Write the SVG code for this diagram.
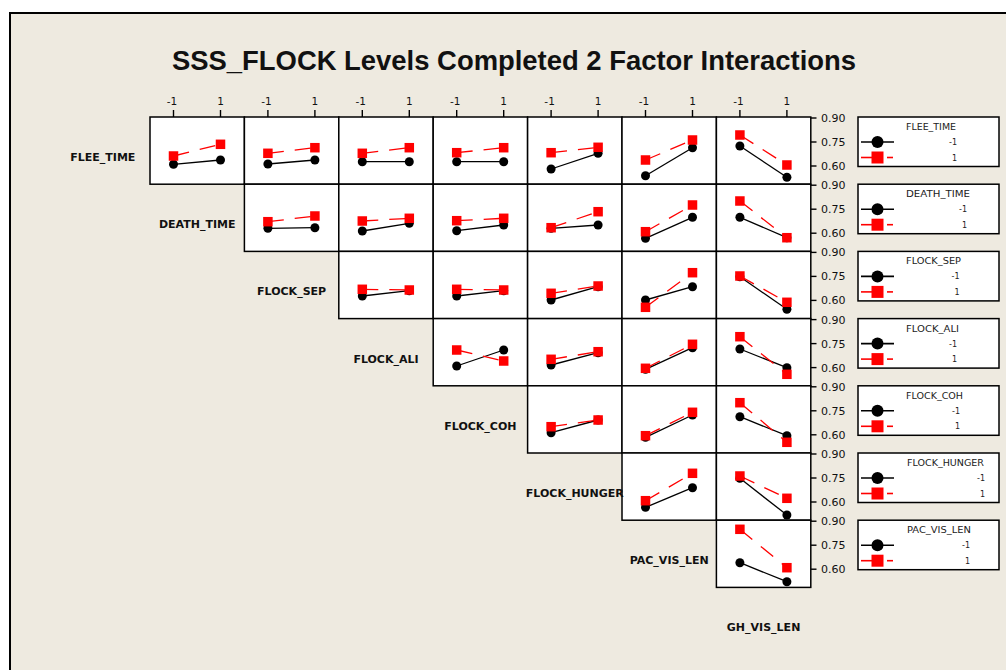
<svg xmlns="http://www.w3.org/2000/svg" xmlns:xlink="http://www.w3.org/1999/xlink" width="1006" height="670" viewBox="0 0 1006 670">
<style>
.cell{fill:#fff;stroke:#000;stroke-width:1.5}
.bl{stroke:#000;stroke-width:1.3;fill:none}
.rl{stroke:#f00;stroke-width:1.3;fill:none;stroke-dasharray:16 11}
.tk{stroke:#000;stroke-width:1.4}
.ax{font-family:"DejaVu Sans",Verdana,sans-serif;font-size:10.5px;fill:#111;text-anchor:middle}
.ay{font-family:"DejaVu Sans",Verdana,sans-serif;font-size:11px;fill:#111}
.rlab{font-family:"DejaVu Sans",Verdana,sans-serif;font-size:11px;font-weight:bold;fill:#111;text-anchor:middle}
.lg{fill:#fff;stroke:#000;stroke-width:1.5}
.lt{font-family:"DejaVu Sans",Verdana,sans-serif;font-size:8.5px;fill:#222}
.lv{font-family:"DejaVu Sans",Verdana,sans-serif;font-size:8px;fill:#222;text-anchor:end}
.lbl{stroke:#000;stroke-width:1.6}
.lrl{stroke:#f00;stroke-width:1.6}
</style>
<defs>
<circle id="c" r="4.5" fill="#000"/>
<rect id="s" x="-4.75" y="-4.75" width="9.5" height="9.5" fill="#f00"/>
</defs>
<rect x="0" y="0" width="1006" height="670" fill="#fff"/>
<rect x="10" y="13" width="1010" height="680" fill="#EEEAE0" stroke="#000" stroke-width="2"/>
<text x="514" y="70" font-family="'Liberation Sans',Arial,sans-serif" font-size="27.5" font-weight="bold" fill="#111" text-anchor="middle" textLength="684" lengthAdjust="spacingAndGlyphs">SSS_FLOCK Levels Completed 2 Factor Interactions</text>

<g id="top-axis">
<g class="tk">
<line x1="173.5" y1="110" x2="173.5" y2="117"/><line x1="220.5" y1="110" x2="220.5" y2="117"/>
<line x1="267.9" y1="110" x2="267.9" y2="117"/><line x1="314.9" y1="110" x2="314.9" y2="117"/>
<line x1="362.3" y1="110" x2="362.3" y2="117"/><line x1="409.3" y1="110" x2="409.3" y2="117"/>
<line x1="456.7" y1="110" x2="456.7" y2="117"/><line x1="503.7" y1="110" x2="503.7" y2="117"/>
<line x1="551.1" y1="110" x2="551.1" y2="117"/><line x1="598.1" y1="110" x2="598.1" y2="117"/>
<line x1="645.5" y1="110" x2="645.5" y2="117"/><line x1="692.5" y1="110" x2="692.5" y2="117"/>
<line x1="739.9" y1="110" x2="739.9" y2="117"/><line x1="786.9" y1="110" x2="786.9" y2="117"/>
</g>
<g class="ax">
<text x="172" y="105">-1</text><text x="220.5" y="105">1</text>
<text x="266.4" y="105">-1</text><text x="314.9" y="105">1</text>
<text x="360.8" y="105">-1</text><text x="409.3" y="105">1</text>
<text x="455.2" y="105">-1</text><text x="503.7" y="105">1</text>
<text x="549.6" y="105">-1</text><text x="598.1" y="105">1</text>
<text x="644" y="105">-1</text><text x="692.5" y="105">1</text>
<text x="738.4" y="105">-1</text><text x="786.9" y="105">1</text>
</g>
</g>

<g id="cells">
<rect class="cell" x="150" y="117" width="94.4" height="67.2"/>
<rect class="cell" x="244.4" y="117" width="94.4" height="67.2"/>
<rect class="cell" x="338.8" y="117" width="94.4" height="67.2"/>
<rect class="cell" x="433.2" y="117" width="94.4" height="67.2"/>
<rect class="cell" x="527.6" y="117" width="94.4" height="67.2"/>
<rect class="cell" x="622" y="117" width="94.4" height="67.2"/>
<rect class="cell" x="716.4" y="117" width="94.4" height="67.2"/>
<rect class="cell" x="244.4" y="184.2" width="94.4" height="67.2"/>
<rect class="cell" x="338.8" y="184.2" width="94.4" height="67.2"/>
<rect class="cell" x="433.2" y="184.2" width="94.4" height="67.2"/>
<rect class="cell" x="527.6" y="184.2" width="94.4" height="67.2"/>
<rect class="cell" x="622" y="184.2" width="94.4" height="67.2"/>
<rect class="cell" x="716.4" y="184.2" width="94.4" height="67.2"/>
<rect class="cell" x="338.8" y="251.4" width="94.4" height="67.2"/>
<rect class="cell" x="433.2" y="251.4" width="94.4" height="67.2"/>
<rect class="cell" x="527.6" y="251.4" width="94.4" height="67.2"/>
<rect class="cell" x="622" y="251.4" width="94.4" height="67.2"/>
<rect class="cell" x="716.4" y="251.4" width="94.4" height="67.2"/>
<rect class="cell" x="433.2" y="318.6" width="94.4" height="67.2"/>
<rect class="cell" x="527.6" y="318.6" width="94.4" height="67.2"/>
<rect class="cell" x="622" y="318.6" width="94.4" height="67.2"/>
<rect class="cell" x="716.4" y="318.6" width="94.4" height="67.2"/>
<rect class="cell" x="527.6" y="385.8" width="94.4" height="67.2"/>
<rect class="cell" x="622" y="385.8" width="94.4" height="67.2"/>
<rect class="cell" x="716.4" y="385.8" width="94.4" height="67.2"/>
<rect class="cell" x="622" y="453" width="94.4" height="67.2"/>
<rect class="cell" x="716.4" y="453" width="94.4" height="67.2"/>
<rect class="cell" x="716.4" y="520.2" width="94.4" height="67.2"/>
</g>

<g id="right-axis">
<g class="tk">
<line x1="810.8" y1="118" x2="816.5" y2="118"/><line x1="810.8" y1="142" x2="816.5" y2="142"/><line x1="810.8" y1="166" x2="816.5" y2="166"/>
<line x1="810.8" y1="185.2" x2="816.5" y2="185.2"/><line x1="810.8" y1="209.2" x2="816.5" y2="209.2"/><line x1="810.8" y1="233.2" x2="816.5" y2="233.2"/>
<line x1="810.8" y1="252.4" x2="816.5" y2="252.4"/><line x1="810.8" y1="276.4" x2="816.5" y2="276.4"/><line x1="810.8" y1="300.4" x2="816.5" y2="300.4"/>
<line x1="810.8" y1="319.6" x2="816.5" y2="319.6"/><line x1="810.8" y1="343.6" x2="816.5" y2="343.6"/><line x1="810.8" y1="367.6" x2="816.5" y2="367.6"/>
<line x1="810.8" y1="386.8" x2="816.5" y2="386.8"/><line x1="810.8" y1="410.8" x2="816.5" y2="410.8"/><line x1="810.8" y1="434.8" x2="816.5" y2="434.8"/>
<line x1="810.8" y1="454" x2="816.5" y2="454"/><line x1="810.8" y1="478" x2="816.5" y2="478"/><line x1="810.8" y1="502" x2="816.5" y2="502"/>
<line x1="810.8" y1="521.2" x2="816.5" y2="521.2"/><line x1="810.8" y1="545.2" x2="816.5" y2="545.2"/><line x1="810.8" y1="569.2" x2="816.5" y2="569.2"/>
</g>
<g class="ay">
<text x="821" y="122">0.90</text><text x="821" y="146">0.75</text><text x="821" y="170">0.60</text>
<text x="821" y="189.2">0.90</text><text x="821" y="213.2">0.75</text><text x="821" y="237.2">0.60</text>
<text x="821" y="256.4">0.90</text><text x="821" y="280.4">0.75</text><text x="821" y="304.4">0.60</text>
<text x="821" y="323.6">0.90</text><text x="821" y="347.6">0.75</text><text x="821" y="371.6">0.60</text>
<text x="821" y="390.8">0.90</text><text x="821" y="414.8">0.75</text><text x="821" y="438.8">0.60</text>
<text x="821" y="458">0.90</text><text x="821" y="482">0.75</text><text x="821" y="506">0.60</text>
<text x="821" y="525.2">0.90</text><text x="821" y="549.2">0.75</text><text x="821" y="573.2">0.60</text>
</g>
</g>

<g id="row-labels" class="rlab">
<text x="102.8" y="161">FLEE_TIME</text>
<text x="197.2" y="228.2">DEATH_TIME</text>
<text x="291.6" y="295.4">FLOCK_SEP</text>
<text x="386" y="362.6">FLOCK_ALI</text>
<text x="480.4" y="429.8">FLOCK_COH</text>
<text x="574.8" y="497">FLOCK_HUNGER</text>
<text x="669.2" y="564.2">PAC_VIS_LEN</text>
<text x="763.6" y="631.4">GH_VIS_LEN</text>
</g>

<g id="connectors">
<!-- row 1 -->
<line class="bl" x1="173.5" y1="164.3" x2="220.5" y2="160"/><line class="rl" x1="173.5" y1="156" x2="220.5" y2="144.3"/>
<line class="bl" x1="267.9" y1="164" x2="314.9" y2="160"/><line class="rl" x1="267.9" y1="153.3" x2="314.9" y2="147.7"/>
<line class="bl" x1="362.3" y1="161.7" x2="409.3" y2="161.7"/><line class="rl" x1="362.3" y1="153.3" x2="409.3" y2="147.7"/>
<line class="bl" x1="456.7" y1="161.7" x2="503.7" y2="161.7"/><line class="rl" x1="456.7" y1="152.7" x2="503.7" y2="147.7"/>
<line class="bl" x1="551.1" y1="169" x2="598.1" y2="153.3"/><line class="rl" x1="551.1" y1="152.7" x2="598.1" y2="147.3"/>
<line class="bl" x1="645.5" y1="175.7" x2="692.5" y2="147.7"/><line class="rl" x1="645.5" y1="160" x2="692.5" y2="140"/>
<line class="bl" x1="739.9" y1="146" x2="786.9" y2="177.3"/><line class="rl" x1="739.9" y1="135" x2="786.9" y2="165"/>
<!-- row 2 -->
<line class="bl" x1="267.9" y1="228.3" x2="314.9" y2="227.7"/><line class="rl" x1="267.9" y1="221.7" x2="314.9" y2="216"/>
<line class="bl" x1="362.3" y1="231" x2="409.3" y2="223.3"/><line class="rl" x1="362.3" y1="221" x2="409.3" y2="218.3"/>
<line class="bl" x1="456.7" y1="230.7" x2="503.7" y2="225"/><line class="rl" x1="456.7" y1="220.7" x2="503.7" y2="218.3"/>
<line class="bl" x1="551.1" y1="228.3" x2="598.1" y2="225"/><line class="rl" x1="551.1" y1="227.7" x2="598.1" y2="211.7"/>
<line class="bl" x1="645.5" y1="238.3" x2="692.5" y2="217.3"/><line class="rl" x1="645.5" y1="231.7" x2="692.5" y2="205"/>
<line class="bl" x1="739.9" y1="217.3" x2="786.9" y2="237.7"/><line class="rl" x1="739.9" y1="201" x2="786.9" y2="237.7"/>
<!-- row 3 -->
<line class="bl" x1="362.3" y1="296" x2="409.3" y2="290.7"/><line class="rl" x1="362.3" y1="289.3" x2="409.3" y2="290"/>
<line class="bl" x1="456.7" y1="296" x2="503.7" y2="290.7"/><line class="rl" x1="456.7" y1="289.3" x2="503.7" y2="290"/>
<line class="bl" x1="551.1" y1="300" x2="598.1" y2="286.7"/><line class="rl" x1="551.1" y1="293.3" x2="598.1" y2="286"/>
<line class="bl" x1="645.5" y1="300" x2="692.5" y2="286.7"/><line class="rl" x1="645.5" y1="307.3" x2="692.5" y2="272.7"/>
<line class="bl" x1="739.9" y1="276.7" x2="786.9" y2="309.3"/><line class="rl" x1="739.9" y1="276" x2="786.9" y2="302.3"/>
<!-- row 4 -->
<line class="bl" x1="456.7" y1="366" x2="503.7" y2="350"/><line class="rl" x1="456.7" y1="350" x2="503.7" y2="361"/>
<line class="bl" x1="551.1" y1="365" x2="598.1" y2="352.7"/><line class="rl" x1="551.1" y1="359.3" x2="598.1" y2="351.7"/>
<line class="bl" x1="645.5" y1="369.3" x2="692.5" y2="347.7"/><line class="rl" x1="645.5" y1="368.3" x2="692.5" y2="344.3"/>
<line class="bl" x1="739.9" y1="349" x2="786.9" y2="367.7"/><line class="rl" x1="739.9" y1="336.7" x2="786.9" y2="374.3"/>
<!-- row 5 -->
<line class="bl" x1="551.1" y1="432.7" x2="598.1" y2="420"/><line class="rl" x1="551.1" y1="426.7" x2="598.1" y2="420"/>
<line class="bl" x1="645.5" y1="437.3" x2="692.5" y2="415"/><line class="rl" x1="645.5" y1="435.7" x2="692.5" y2="412.3"/>
<line class="bl" x1="739.9" y1="416.7" x2="786.9" y2="435.7"/><line class="rl" x1="739.9" y1="402.7" x2="786.9" y2="442.3"/>
<!-- row 6 -->
<line class="bl" x1="645.5" y1="507.3" x2="692.5" y2="487.7"/><line class="rl" x1="645.5" y1="500.7" x2="692.5" y2="473.3"/>
<line class="bl" x1="739.9" y1="478.3" x2="786.9" y2="515"/><line class="rl" x1="739.9" y1="476" x2="786.9" y2="498.3"/>
<!-- row 7 -->
<line class="bl" x1="739.9" y1="562.7" x2="786.9" y2="581.7"/><line class="rl" x1="739.9" y1="529.3" x2="786.9" y2="567.7"/>
</g>

<g id="points-black">
<use href="#c" x="173.5" y="164.3"/><use href="#c" x="220.5" y="160"/>
<use href="#c" x="267.9" y="164"/><use href="#c" x="314.9" y="160"/>
<use href="#c" x="362.3" y="161.7"/><use href="#c" x="409.3" y="161.7"/>
<use href="#c" x="456.7" y="161.7"/><use href="#c" x="503.7" y="161.7"/>
<use href="#c" x="551.1" y="169"/><use href="#c" x="598.1" y="153.3"/>
<use href="#c" x="645.5" y="175.7"/><use href="#c" x="692.5" y="147.7"/>
<use href="#c" x="739.9" y="146"/><use href="#c" x="786.9" y="177.3"/>
<use href="#c" x="267.9" y="228.3"/><use href="#c" x="314.9" y="227.7"/>
<use href="#c" x="362.3" y="231"/><use href="#c" x="409.3" y="223.3"/>
<use href="#c" x="456.7" y="230.7"/><use href="#c" x="503.7" y="225"/>
<use href="#c" x="551.1" y="228.3"/><use href="#c" x="598.1" y="225"/>
<use href="#c" x="645.5" y="238.3"/><use href="#c" x="692.5" y="217.3"/>
<use href="#c" x="739.9" y="217.3"/><use href="#c" x="786.9" y="237.7"/>
<use href="#c" x="362.3" y="296"/><use href="#c" x="409.3" y="290.7"/>
<use href="#c" x="456.7" y="296"/><use href="#c" x="503.7" y="290.7"/>
<use href="#c" x="551.1" y="300"/><use href="#c" x="598.1" y="286.7"/>
<use href="#c" x="645.5" y="300"/><use href="#c" x="692.5" y="286.7"/>
<use href="#c" x="739.9" y="276.7"/><use href="#c" x="786.9" y="309.3"/>
<use href="#c" x="456.7" y="366"/><use href="#c" x="503.7" y="350"/>
<use href="#c" x="551.1" y="365"/><use href="#c" x="598.1" y="352.7"/>
<use href="#c" x="645.5" y="369.3"/><use href="#c" x="692.5" y="347.7"/>
<use href="#c" x="739.9" y="349"/><use href="#c" x="786.9" y="367.7"/>
<use href="#c" x="551.1" y="432.7"/><use href="#c" x="598.1" y="420"/>
<use href="#c" x="645.5" y="437.3"/><use href="#c" x="692.5" y="415"/>
<use href="#c" x="739.9" y="416.7"/><use href="#c" x="786.9" y="435.7"/>
<use href="#c" x="645.5" y="507.3"/><use href="#c" x="692.5" y="487.7"/>
<use href="#c" x="739.9" y="478.3"/><use href="#c" x="786.9" y="515"/>
<use href="#c" x="739.9" y="562.7"/><use href="#c" x="786.9" y="581.7"/>
</g>
<g id="points-red">
<use href="#s" x="173.5" y="156"/><use href="#s" x="220.5" y="144.3"/>
<use href="#s" x="267.9" y="153.3"/><use href="#s" x="314.9" y="147.7"/>
<use href="#s" x="362.3" y="153.3"/><use href="#s" x="409.3" y="147.7"/>
<use href="#s" x="456.7" y="152.7"/><use href="#s" x="503.7" y="147.7"/>
<use href="#s" x="551.1" y="152.7"/><use href="#s" x="598.1" y="147.3"/>
<use href="#s" x="645.5" y="160"/><use href="#s" x="692.5" y="140"/>
<use href="#s" x="739.9" y="135"/><use href="#s" x="786.9" y="165"/>
<use href="#s" x="267.9" y="221.7"/><use href="#s" x="314.9" y="216"/>
<use href="#s" x="362.3" y="221"/><use href="#s" x="409.3" y="218.3"/>
<use href="#s" x="456.7" y="220.7"/><use href="#s" x="503.7" y="218.3"/>
<use href="#s" x="551.1" y="227.7"/><use href="#s" x="598.1" y="211.7"/>
<use href="#s" x="645.5" y="231.7"/><use href="#s" x="692.5" y="205"/>
<use href="#s" x="739.9" y="201"/><use href="#s" x="786.9" y="237.7"/>
<use href="#s" x="362.3" y="289.3"/><use href="#s" x="409.3" y="290"/>
<use href="#s" x="456.7" y="289.3"/><use href="#s" x="503.7" y="290"/>
<use href="#s" x="551.1" y="293.3"/><use href="#s" x="598.1" y="286"/>
<use href="#s" x="645.5" y="307.3"/><use href="#s" x="692.5" y="272.7"/>
<use href="#s" x="739.9" y="276"/><use href="#s" x="786.9" y="302.3"/>
<use href="#s" x="456.7" y="350"/><use href="#s" x="503.7" y="361"/>
<use href="#s" x="551.1" y="359.3"/><use href="#s" x="598.1" y="351.7"/>
<use href="#s" x="645.5" y="368.3"/><use href="#s" x="692.5" y="344.3"/>
<use href="#s" x="739.9" y="336.7"/><use href="#s" x="786.9" y="374.3"/>
<use href="#s" x="551.1" y="426.7"/><use href="#s" x="598.1" y="420"/>
<use href="#s" x="645.5" y="435.7"/><use href="#s" x="692.5" y="412.3"/>
<use href="#s" x="739.9" y="402.7"/><use href="#s" x="786.9" y="442.3"/>
<use href="#s" x="645.5" y="500.7"/><use href="#s" x="692.5" y="473.3"/>
<use href="#s" x="739.9" y="476"/><use href="#s" x="786.9" y="498.3"/>
<use href="#s" x="739.9" y="529.3"/><use href="#s" x="786.9" y="567.7"/>
</g>

<g id="legend-flee-time">
<rect class="lg" x="858" y="117" width="141" height="49.5"/>
<text class="lt" x="906" y="130" textLength="50" lengthAdjust="spacingAndGlyphs">FLEE_TIME</text>
<line class="lbl" x1="861" y1="142" x2="894" y2="142"/><circle cx="877.5" cy="142" r="6" fill="#000"/>
<line class="lrl" x1="861" y1="157.5" x2="872" y2="157.5"/><rect x="871.5" y="151.5" width="12" height="12" fill="#f00"/><line class="lrl" x1="887" y1="157.5" x2="893" y2="157.5"/>
<text class="lv" x="957" y="145">-1</text><text class="lv" x="957" y="160.5">1</text>
</g>
<g id="legend-death-time">
<rect class="lg" x="858" y="184.2" width="141" height="49.5"/>
<text class="lt" x="906" y="197.2" textLength="64" lengthAdjust="spacingAndGlyphs">DEATH_TIME</text>
<line class="lbl" x1="861" y1="209.2" x2="894" y2="209.2"/><circle cx="877.5" cy="209.2" r="6" fill="#000"/>
<line class="lrl" x1="861" y1="224.7" x2="872" y2="224.7"/><rect x="871.5" y="218.7" width="12" height="12" fill="#f00"/><line class="lrl" x1="887" y1="224.7" x2="893" y2="224.7"/>
<text class="lv" x="967" y="212.2">-1</text><text class="lv" x="967" y="227.7">1</text>
</g>
<g id="legend-flock-sep">
<rect class="lg" x="858" y="251.4" width="141" height="49.5"/>
<text class="lt" x="906" y="264.4" textLength="55" lengthAdjust="spacingAndGlyphs">FLOCK_SEP</text>
<line class="lbl" x1="861" y1="276.4" x2="894" y2="276.4"/><circle cx="877.5" cy="276.4" r="6" fill="#000"/>
<line class="lrl" x1="861" y1="291.9" x2="872" y2="291.9"/><rect x="871.5" y="285.9" width="12" height="12" fill="#f00"/><line class="lrl" x1="887" y1="291.9" x2="893" y2="291.9"/>
<text class="lv" x="959.5" y="279.4">-1</text><text class="lv" x="959.5" y="294.9">1</text>
</g>
<g id="legend-flock-ali">
<rect class="lg" x="858" y="318.6" width="141" height="49.5"/>
<text class="lt" x="906" y="331.6" textLength="53" lengthAdjust="spacingAndGlyphs">FLOCK_ALI</text>
<line class="lbl" x1="861" y1="343.6" x2="894" y2="343.6"/><circle cx="877.5" cy="343.6" r="6" fill="#000"/>
<line class="lrl" x1="861" y1="359.1" x2="872" y2="359.1"/><rect x="871.5" y="353.1" width="12" height="12" fill="#f00"/><line class="lrl" x1="887" y1="359.1" x2="893" y2="359.1"/>
<text class="lv" x="957" y="346.6">-1</text><text class="lv" x="957" y="362.1">1</text>
</g>
<g id="legend-flock-coh">
<rect class="lg" x="858" y="385.8" width="141" height="49.5"/>
<text class="lt" x="906" y="398.8" textLength="57" lengthAdjust="spacingAndGlyphs">FLOCK_COH</text>
<line class="lbl" x1="861" y1="410.8" x2="894" y2="410.8"/><circle cx="877.5" cy="410.8" r="6" fill="#000"/>
<line class="lrl" x1="861" y1="426.3" x2="872" y2="426.3"/><rect x="871.5" y="420.3" width="12" height="12" fill="#f00"/><line class="lrl" x1="887" y1="426.3" x2="893" y2="426.3"/>
<text class="lv" x="960" y="413.8">-1</text><text class="lv" x="960" y="429.3">1</text>
</g>
<g id="legend-flock-hunger">
<rect class="lg" x="858" y="453" width="141" height="49.5"/>
<text class="lt" x="907" y="466" textLength="77" lengthAdjust="spacingAndGlyphs">FLOCK_HUNGER</text>
<line class="lbl" x1="861" y1="478" x2="894" y2="478"/><circle cx="877.5" cy="478" r="6" fill="#000"/>
<line class="lrl" x1="861" y1="493.5" x2="872" y2="493.5"/><rect x="871.5" y="487.5" width="12" height="12" fill="#f00"/><line class="lrl" x1="887" y1="493.5" x2="893" y2="493.5"/>
<text class="lv" x="985" y="481">-1</text><text class="lv" x="985" y="496.5">1</text>
</g>
<g id="legend-pac-vis-len">
<rect class="lg" x="858" y="520.2" width="141" height="49.5"/>
<text class="lt" x="907" y="533.2" textLength="64" lengthAdjust="spacingAndGlyphs">PAC_VIS_LEN</text>
<line class="lbl" x1="861" y1="545.2" x2="894" y2="545.2"/><circle cx="877.5" cy="545.2" r="6" fill="#000"/>
<line class="lrl" x1="861" y1="560.7" x2="872" y2="560.7"/><rect x="871.5" y="554.7" width="12" height="12" fill="#f00"/><line class="lrl" x1="887" y1="560.7" x2="893" y2="560.7"/>
<text class="lv" x="970" y="548.2">-1</text><text class="lv" x="970" y="563.7">1</text>
</g>
</svg>
